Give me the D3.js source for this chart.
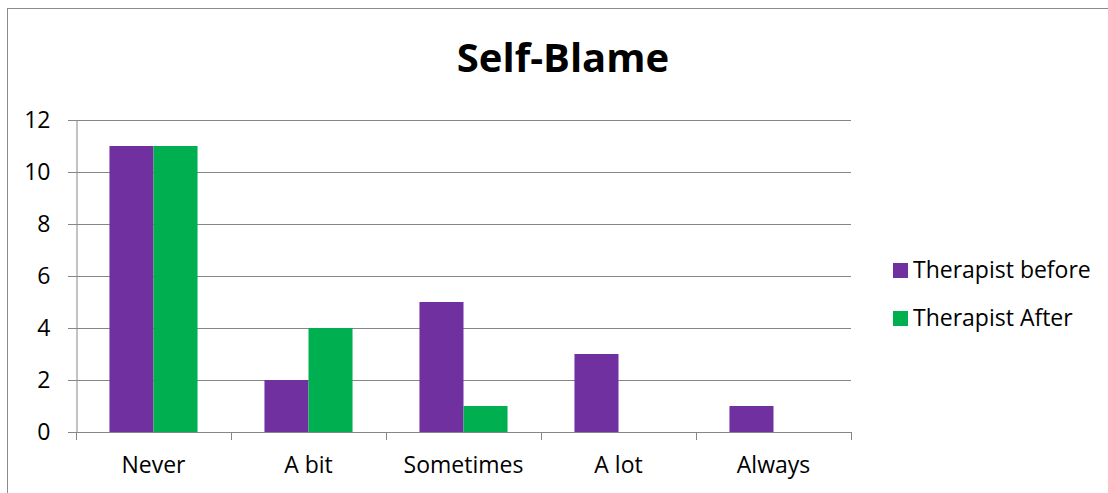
<!DOCTYPE html>
<html><head><meta charset="utf-8">
<script src="https://cdn.jsdelivr.net/npm/d3@7"></script>
<style>body{margin:0;background:#fff}svg{display:block}text{font-family:"Open Sans",sans-serif}</style>
</head><body><svg id="c" width="1108" height="493"></svg>
<script>
const categories = ["Never","A bit","Sometimes","A lot","Always"];
const seriesNames = ["Therapist before","Therapist After"];
const seriesBefore = [11,2,5,3,1];
const seriesAfter = [11,4,1,0,0];
const yTicks = [0,2,4,6,8,10,12];
const colors = ["#7030A0","#00B050"];
const FONT = '"Open Sans",sans-serif';
const FS = 23;

const svg = d3.select("#c");
svg.append("rect").attr("x",7.5).attr("y",8.5).attr("width",1200).attr("height",600)
  .attr("fill","#fff").attr("stroke","#8c8c8c").attr("stroke-width",1);

const L=76, R=851, T=120, B=432;
const x0 = d3.scaleBand().domain(categories).range([L,R]).padding(0);
const x1 = d3.scaleBand().domain(seriesNames).range([0,x0.bandwidth()]).paddingInner(0).paddingOuter(0.76);
const y = d3.scaleLinear().domain([0,12]).range([B,T]);

svg.append("g").selectAll("line").data(yTicks).join("line")
  .attr("x1",L-8).attr("x2",R).attr("y1",d=>Math.round(y(d))+0.5).attr("y2",d=>Math.round(y(d))+0.5)
  .attr("stroke","#868686").attr("stroke-width",1);

const ya = svg.append("g").attr("transform",`translate(${L+0.5},0)`)
  .call(d3.axisLeft(y).tickValues(yTicks).tickSize(0).tickPadding(26));
ya.select(".domain").attr("stroke","#868686");
ya.selectAll("text").attr("font-size",FS).attr("fill","#000").attr("font-family",FONT);

const data = categories.map((c,i)=>({c, vals:[seriesBefore[i],seriesAfter[i]]}));
const g = svg.append("g").selectAll("g").data(data).join("g").attr("transform",d=>`translate(${x0(d.c)},0)`);
g.selectAll("rect").data(d=>d.vals.map((v,j)=>({s:seriesNames[j],v,j}))).join("rect")
  .attr("x",d=>x1(d.s)).attr("width",x1.bandwidth())
  .attr("y",d=>y(d.v)).attr("height",d=>B-y(d.v)).attr("fill",d=>colors[d.j]);

const xa = svg.append("g").attr("transform",`translate(0,${B+0.5})`)
  .call(d3.axisBottom(x0).tickSize(0).tickPadding(24));
xa.select(".domain").remove();
xa.selectAll("text").attr("font-size",FS).attr("fill","#000").attr("font-family",FONT);
svg.append("line").attr("x1",L).attr("x2",R+0.5).attr("y1",B+0.5).attr("y2",B+0.5).attr("stroke","#868686");
const bounds = categories.map(c=>x0(c)).concat([R]);
svg.append("g").selectAll("line").data(bounds).join("line")
  .attr("x1",d=>Math.round(d)+0.5).attr("x2",d=>Math.round(d)+0.5).attr("y1",B).attr("y2",B+8)
  .attr("stroke","#868686");

svg.append("text").attr("x",563).attr("y",72).attr("text-anchor","middle")
  .attr("font-size",40).attr("font-weight","bold").attr("fill","#000").attr("font-family",FONT).text("Self-Blame");

const lg = svg.append("g").selectAll("g").data(seriesNames).join("g")
  .attr("transform",(d,i)=>`translate(893,${270+i*48})`);
lg.append("rect").attr("x",0).attr("y",-7).attr("width",15).attr("height",15).attr("fill",(d,i)=>colors[i]);
lg.append("text").attr("x",20).attr("y",0).attr("dy","0.35em").attr("font-size",FS).attr("fill","#000").attr("font-family",FONT).text(d=>d);
</script></body></html>
